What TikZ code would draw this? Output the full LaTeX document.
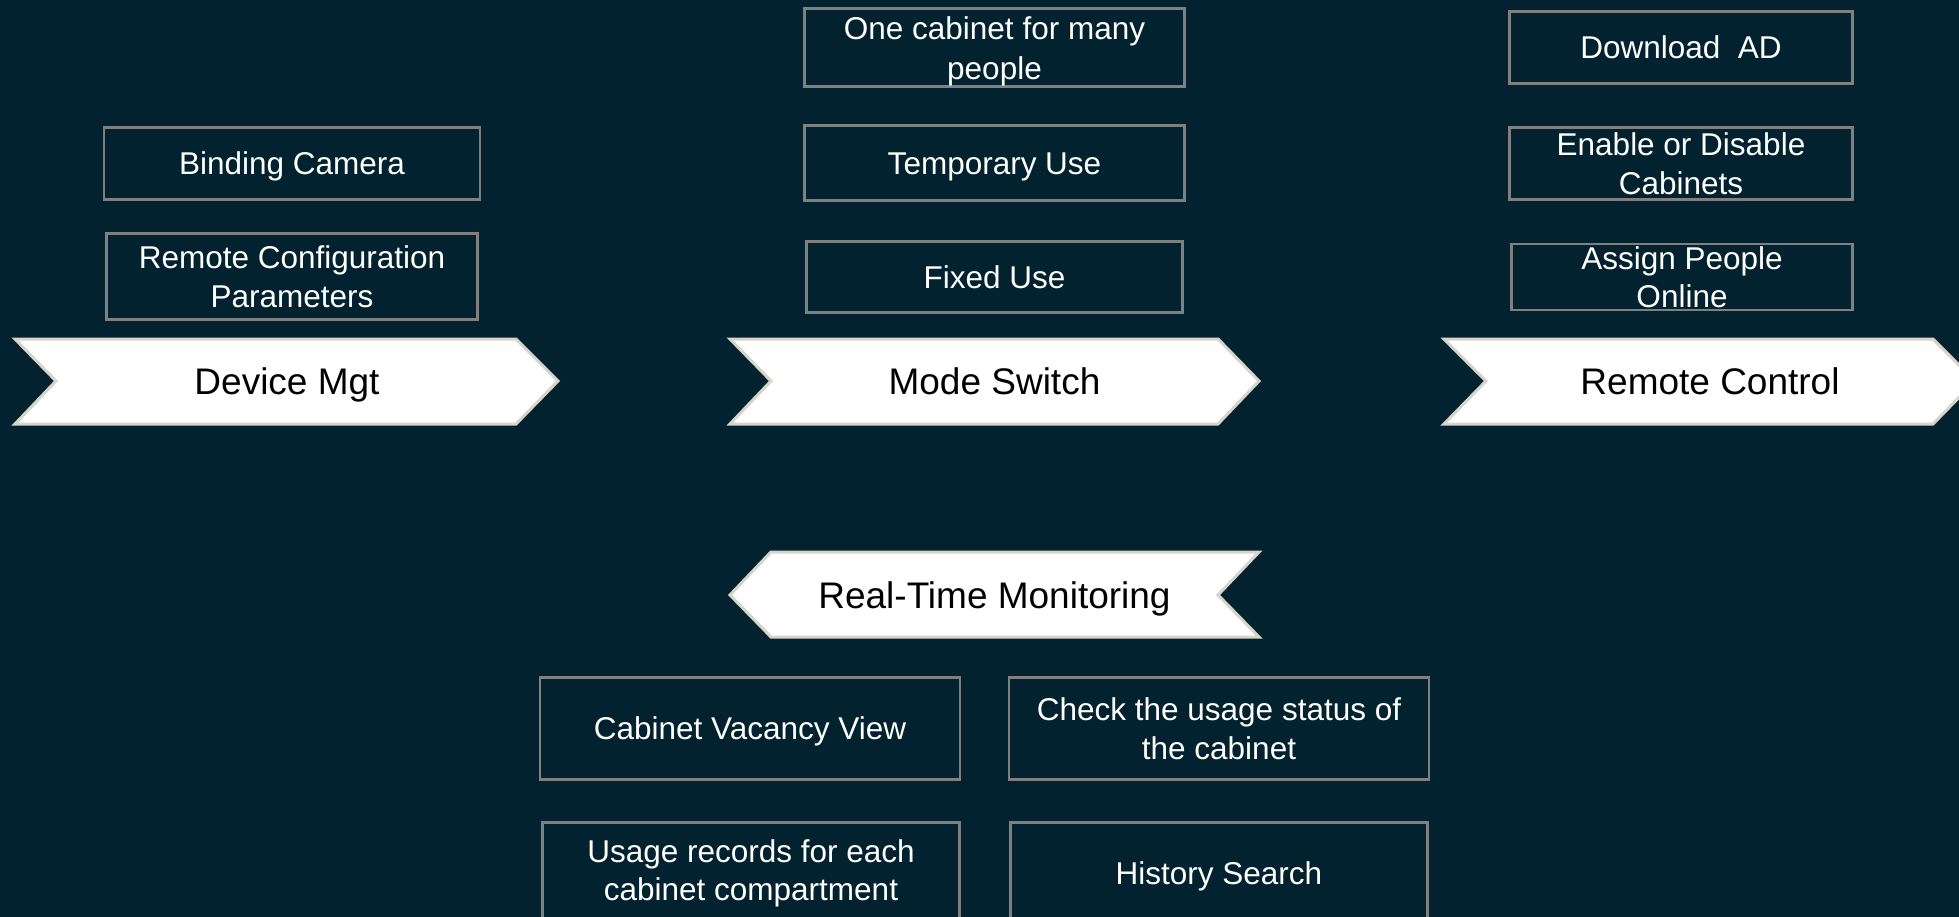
\documentclass[tikz,border=0pt]{standalone}
\usepackage{fontspec}
\setmainfont{Liberation Sans}
\definecolor{bg}{RGB}{2,34,48}
\definecolor{boxline}{RGB}{128,128,128}
\definecolor{chevline}{RGB}{216,212,202}
\begin{document}
\begin{tikzpicture}[x=1pt,y=-1pt,
 item/.style={draw=boxline,line width=2.5pt,text=white,inner sep=0pt,align=center,
   font=\fontsize{31.5}{38.5}\selectfont},
 oneline/.style={text height=22.7pt,text depth=0pt},
 chev/.style={fill=white,draw=chevline,line width=3pt,line join=miter},
 chevtext/.style={text=black,font=\fontsize{37}{44}\selectfont,inner sep=0pt,
   text height=26.6pt,text depth=0pt}]
\fill[bg] (0,0) rectangle (1959,917);
\useasboundingbox (0,0) rectangle (1959,917);
\clip (0,0) rectangle (1959,917);

% chevrons
\draw[chev] (15,339) -- (516,339) -- (558,381) -- (516,424) -- (15,424) -- (56,381) -- cycle;
\node[chevtext] (dm) at (287,381) {Device Mgt};
\draw[chev] (730,339) -- (1218,339) -- (1259,381) -- (1218,424) -- (730,424) -- (771,381) -- cycle;
\node[chevtext] (ms) at (994.5,381) {Mode Switch};
\draw[chev] (1444,339) -- (1933,339) -- (1975,381) -- (1933,424) -- (1444,424) -- (1486,381) -- cycle;
\node[chevtext] (rc) at (1710,381) {Remote Control};
\draw[chev] (730,595) -- (771,552) -- (1259,552) -- (1218,595) -- (1259,637) -- (771,637) -- cycle;
\node[chevtext] (rt) at (994.5,595) {Real-Time Monitoring};

% Device Mgt items
\node[item,oneline,minimum width=376pt,minimum height=72pt] (bc) at (292,163.5) {Binding Camera};
\node[item,minimum width=371pt,minimum height=86pt] (rcp) at (292,276.5) {Remote Configuration\\Parameters};

% Mode Switch items
\node[item,minimum width=380pt,minimum height=78pt,font=\fontsize{31.5}{40}\selectfont] (oc) at (994.5,47.5) {\rule{0pt}{30pt}One cabinet for many\\people};
\node[item,oneline,minimum width=380pt,minimum height=75pt] (tu) at (994.5,163) {Temporary Use};
\node[item,oneline,minimum width=376pt,minimum height=71pt] (fu) at (994.5,277) {Fixed Use};

% Remote Control items
\node[item,oneline,minimum width=343pt,minimum height=72pt] (da) at (1681,47.5) {Download\ \ AD};
\node[item,minimum width=343pt,minimum height=72pt] (ed) at (1681,163.5) {Enable or Disable\\Cabinets};
\node[item,minimum width=341pt,minimum height=66pt] (ap) at (1682,277) {Assign People\\Online};

% Real-Time Monitoring items
\node[item,oneline,minimum width=420pt,minimum height=102pt] (cv) at (750,728.5) {Cabinet Vacancy View};
\node[item,minimum width=420pt,minimum height=102pt] (cs) at (1219,728.5) {Check the usage status of\\the cabinet};
\node[item,minimum width=417pt,minimum height=102pt] (ur) at (751,873.5) {Usage records for each\\cabinet compartment};
\node[item,oneline,minimum width=417pt,minimum height=102pt] (hs) at (1219,873.5) {History Search};
\end{tikzpicture}
\end{document}
